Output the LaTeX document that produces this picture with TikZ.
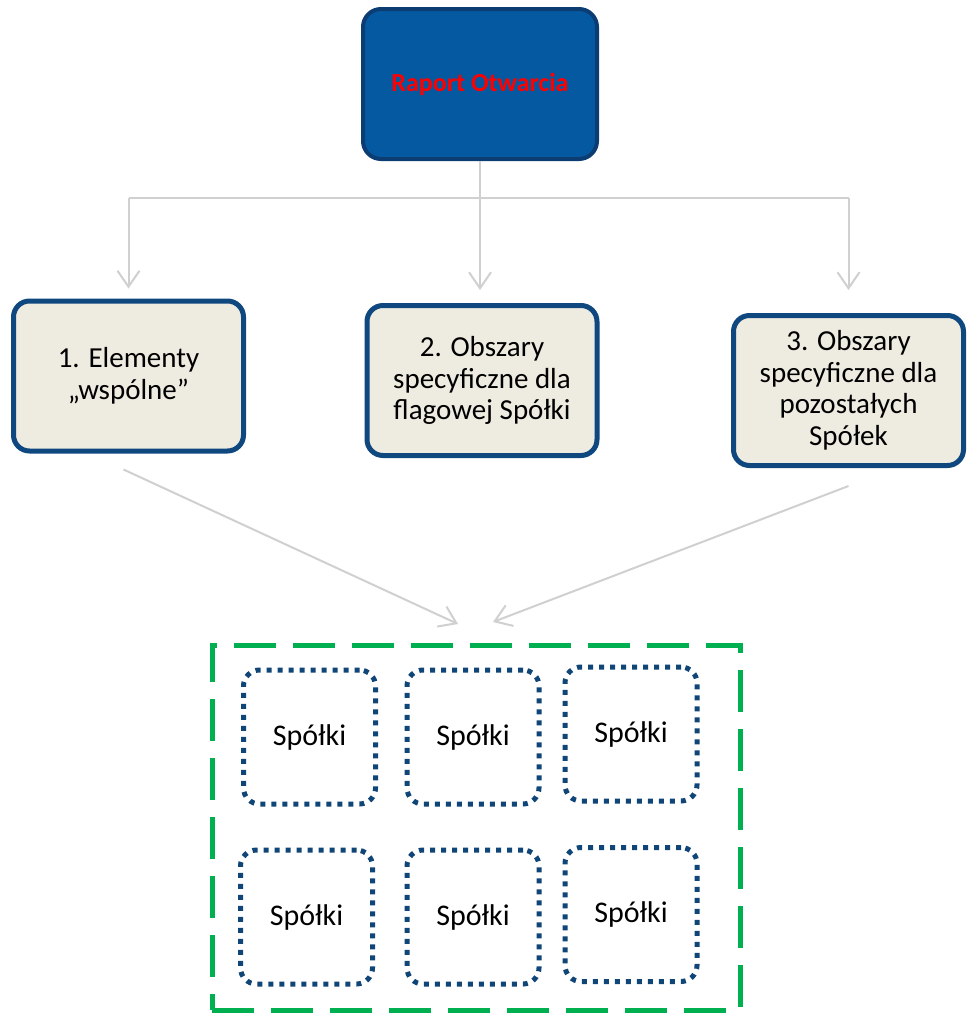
\documentclass[tikz,border=0pt]{standalone}
\usepackage{fontspec}
\setmainfont{Carlito}
\usepackage{tikz}
\usetikzlibrary{positioning}
\usetikzlibrary{arrows.meta}
\definecolor{raportfill}{HTML}{0559A1}
\definecolor{raportedge}{HTML}{0B3D73}
\definecolor{boxedge}{HTML}{0F477F}
\definecolor{boxfill}{HTML}{EEECE1}
\definecolor{dotblue}{HTML}{0F4577}
\definecolor{groupgreen}{HTML}{00B050}
\definecolor{linkgray}{HTML}{D0D0D0}
\tikzset{
  raportbox/.style={draw=raportedge, fill=raportfill, line width=4pt, rounded corners=18pt, minimum width=234pt, minimum height=150pt, text=red, font=\bfseries\fontsize{26}{31}\selectfont},
  areabox/.style={draw=boxedge, fill=boxfill, line width=5pt, rounded corners=16pt, minimum width=230pt, minimum height=150pt, align=center, font=\fontsize{29}{31.5}\selectfont},
  spolka/.style={draw=dotblue, line width=5pt, dash pattern=on 5pt off 6pt, rounded corners=16pt, minimum width=132pt, minimum height=134pt, font=\fontsize{30}{31.5}\selectfont},
  groupbox/.style={draw=groupgreen, line width=5pt, dash pattern=on 42pt off 17pt, minimum width=528pt, minimum height=365pt},
  link/.style={draw=linkgray, line width=2pt},
  arrow/.style={link, -{Straight Barb[length=16pt,width=22pt]}}
}
\begin{document}
\begin{tikzpicture}[x=1pt, y=-1pt]
\useasboundingbox (0,0) rectangle (967,1017);
\node[raportbox] (raport) at (480,84) {Raport Otwarcia};
\node[areabox] (box1) at (128.5,376) {1. Elementy\\„wspólne”};
\node[areabox] (box2) at (482,380.5) {2. Obszary\\specyficzne dla\\flagowej Spółki};
\node[areabox] (box3) at (848.5,390.5) {3. Obszary\\specyficzne dla\\pozostałych\\Spółek};
\node[groupbox] (group) at (476,827.5) {};
\foreach \n/\x/\y in {a/309.5/737, b/473/737, c/631/734, d/306.5/917, e/473/917, f/631/914.5}
  \node[spolka] (sp\n) at (\x,\y) {Spółki};
\coordinate (split) at (480,198);
\coordinate (in1) at (458,624);
\coordinate (in3) at (493,622);
\draw[arrow, shorten >=13pt] (raport.south) -- (raport.south |- box2.north);
\draw[link] (split -| box1.north) -- (split -| box3.north);
\draw[arrow, shorten >=10pt] (split -| box1.north) -- (box1.north);
\draw[arrow, shorten >=23pt] (split -| box3.north) -- (box3.north);
\draw[arrow] ([xshift=-5pt,yshift=-16pt]box1.south) -- (in1);
\draw[arrow] ([yshift=-18pt]box3.south) -- (in3);
\end{tikzpicture}
\end{document}
